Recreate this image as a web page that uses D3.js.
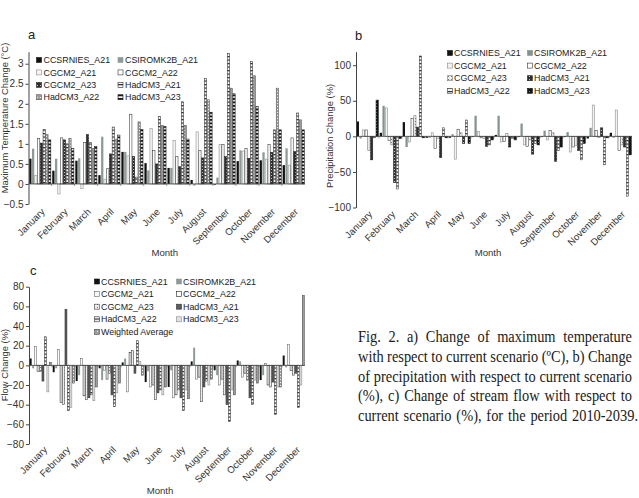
<!DOCTYPE html>
<html><head><meta charset="utf-8">
<script src="https://cdn.jsdelivr.net/npm/d3@7"></script>
<style>body{margin:0;background:#fff}svg{display:block}</style>
</head><body>
<svg id="chart" width="639" height="498"></svg>
<script>
const months = ["January","February","March","April","May","June","July","August","September","October","November","December"];
const seriesAB = ["CCSRNIES_A21","CSIROMK2B_A21","CGCM2_A21","CGCM2_A22","CGCM2_A23","HadCM3_A21","HadCM3_A22","HadCM3_A23"];
const seriesC = ["CCSRNIES_A21","CSIROMK2B_A21","CGCM2_A21","CGCM2_A22","CGCM2_A23","HadCM3_A21","HadCM3_A22","HadCM3_A23","Weighted Average"];

// Panel a: maximum temperature change (°C), one array per series, Jan..Dec
const tempCCSRNIES_A21 = [0.63,0.33,0.58,0.22,0.80,0.52,0.40,0.10,-0.02,0.57,0.59,0.47];
const tempCSIROMK2B_A21 = [0.88,0.63,0.64,1.18,0.80,0.34,0.40,-0.04,0.16,0.84,0.79,0.89];
const tempCGCM2_A21 = [0.21,-0.25,-0.12,0.12,0.70,1.38,1.09,1.30,0.98,0.82,0.62,0.47];
const tempCGCM2_A22 = [1.14,1.15,1.03,0.38,1.74,0.84,0.68,0.84,0.98,0.89,0.99,1.15];
const tempCGCM2_A23 = [1.02,1.10,1.23,0.75,0.69,0.50,0.43,0.65,0.68,0.64,0.79,0.81];
const tempHadCM3_A21 = [1.36,1.00,1.03,1.42,0.17,1.68,2.05,2.63,3.25,3.05,1.35,1.77];
const tempHadCM3_A22 = [1.23,1.14,0.88,1.12,1.55,1.46,1.46,2.10,2.39,2.70,2.39,1.60];
const tempHadCM3_A23 = [1.10,0.88,0.94,1.22,1.36,1.43,1.12,1.79,2.25,1.93,1.35,1.35];

// Panel b: precipitation change (%)
const precCCSRNIES_A21 = [21,5,20,-2,-2,-1,2,-1,-1,-1,-3,5];
const precCSIROMK2B_A21 = [-3,43,-15,-2,3,29,29,18,8,6,12,-2];
const precCGCM2_A21 = [9,40,-8,5,-32,7,-8,-12,-5,-22,44,37];
const precCGCM2_A22 = [9,-6,25,-17,10,-2,-7,-14,8,-15,8,-20];
const precCGCM2_A23 = [-20,-12,29,-3,5,-3,4,-5,5,-13,-2,-12];
const precHadCM3_A21 = [-33,-65,13,-30,-10,-14,-15,-25,-35,-20,12,-15];
const precHadCM3_A22 = [-2,-74,113,12,23,-12,-3,-10,-20,-33,-40,-84];
const precHadCM3_A23 = [51,-3,-2,-2,-10,-5,-5,-12,-15,-10,-2,-26];

// Panel c: flow change (%)
const flowCCSRNIES_A21 = [7,-7,-16,-3,3,-17,-22,4,-5,5,-15,10];
const flowCSIROMK2B_A21 = [-3,-3,-10,-15,7,-6,-5,18,-10,4,-10,-2];
const flowCGCM2_A21 = [19,16,7,-5,-27,-22,-33,-14,-20,-12,2,21];
const flowCGCM2_A22 = [-6,-38,-31,-14,13,-20,-30,-12,-14,-8,-20,-5];
const flowCGCM2_A23 = [-6,-40,-35,-8,15,-35,-25,-37,-30,-15,-22,-10];
const flowHadCM3_A21 = [-16,57,-33,-30,-8,-28,-33,-22,-40,-33,-17,-8];
const flowHadCM3_A22 = [29,-46,-30,-42,25,-25,-46,-16,-57,-40,-50,-43];
const flowHadCM3_A23 = [-27,-43,-36,-28,4,-30,-25,-20,-25,-15,-22,-20];
const flowWeighted = [3,-18,-22,-18,-10,-22,-34,-14,-30,-18,-22,71];

const tempTicks = [-0.5,0,0.5,1,1.5,2,2.5,3];
const precTicks = [-100,-50,0,50,100];
const flowTicks = [-80,-60,-40,-20,0,20,40,60,80];

const captionLines = [
 "Fig. 2. a) Change of maximum temperature",
 "with respect to current scenario (ºC), b) Change",
 "of precipitation with respect to current scenario",
 "(%), c) Change of stream flow with respect to",
 "current scenario (%), for the period 2010-2039."
];

const svg = d3.select("#chart");
const FONT = "'Liberation Sans', Arial, sans-serif";
const defs = svg.append("defs");
function pattern(id, w, h, bg, fg, rects){
  const p = defs.append("pattern").attr("id", id).attr("patternUnits","userSpaceOnUse").attr("width", w).attr("height", h);
  p.append("rect").attr("width", w).attr("height", h).attr("fill", bg);
  rects.forEach(r => p.append("rect").attr("x", r[0]).attr("y", r[1]).attr("width", r[2]).attr("height", r[3]).attr("fill", fg));
}
pattern("ladder", 3, 3.5, "#fbfbfb", "#2a2a2a", [[0,0,3,1.2]]);
pattern("ladder2", 3, 3.5, "#f4f4f4", "#1a1a1a", [[0,0,3,1.8]]);
pattern("darkdot", 3, 3, "#2e2e2e", "#c0c0c0", [[1,1,1,1]]);
pattern("blackdot", 3, 3, "#151515", "#888", [[1,1,1,1]]);
pattern("graydot", 3, 3, "#9c9c9c", "#eeeeee", [[1,1,1,1]]);
pattern("lightdot", 3, 3, "#ececec", "#7a7a7a", [[1,1,1,1]]);

const stylesA = [
 {fill:"#111", stroke:"none"}, {fill:"#8d9a97", stroke:"none"},
 {fill:"#f4f4f4", stroke:"#8a8a8a"}, {fill:"#fff", stroke:"#333"},
 {fill:"url(#darkdot)", stroke:"#222"}, {fill:"url(#ladder)", stroke:"#333"},
 {fill:"url(#graydot)", stroke:"#555"}, {fill:"url(#ladder2)", stroke:"#111"}
];
const stylesB = [
 {fill:"#111", stroke:"none"}, {fill:"#83948f", stroke:"none"},
 {fill:"#f2f2f2", stroke:"#888"}, {fill:"#fff", stroke:"#333"},
 {fill:"url(#lightdot)", stroke:"#777"}, {fill:"url(#darkdot)", stroke:"#222"},
 {fill:"url(#ladder)", stroke:"#444"}, {fill:"url(#blackdot)", stroke:"#111"}
];
const stylesC = [
 {fill:"#111", stroke:"none"}, {fill:"#8d9a97", stroke:"none"},
 {fill:"#fafafa", stroke:"#666"}, {fill:"#fff", stroke:"#222"},
 {fill:"url(#lightdot)", stroke:"#444"}, {fill:"#5c5c5c", stroke:"#333"},
 {fill:"url(#ladder)", stroke:"#333"}, {fill:"#e2e2e2", stroke:"#888"},
 {fill:"url(#graydot)", stroke:"#444"}
];

function panel(cfg){
  const g = svg.append("g");
  const x = d3.scaleBand().domain(months).range([cfg.x0, cfg.x1]).paddingInner(0.04).paddingOuter(0.02);
  const xi = d3.scaleBand().domain(d3.range(cfg.series.length)).range([0, x.bandwidth()]);
  const y = d3.scaleLinear().domain(cfg.domain).range([cfg.yb, cfg.yt]);
  cfg.values.forEach((vals, si) => {
    const st = cfg.styles[si];
    g.append("g").selectAll("rect").data(vals).join("rect")
      .attr("x", (d,i) => x(months[i]) + xi(si) + 0.25)
      .attr("width", xi.bandwidth() - 0.5)
      .attr("y", d => Math.min(y(d), y(0)))
      .attr("height", d => Math.max(0.6, Math.abs(y(d) - y(0))))
      .attr("fill", st.fill).attr("stroke", st.stroke).attr("stroke-width", 0.55);
  });
  g.append("line").attr("x1", cfg.x0).attr("x2", cfg.x1).attr("y1", y(0)).attr("y2", y(0)).attr("stroke", "#444").attr("stroke-width", 0.8);
  g.selectAll(".bt").data(months.slice(1)).join("line")
    .attr("x1", d => x(d) - x.step()*0.02).attr("x2", d => x(d) - x.step()*0.02)
    .attr("y1", y(0)).attr("y2", y(0) + 2).attr("stroke", "#555").attr("stroke-width", 0.6);
  const ax = g.append("g").attr("transform", `translate(${cfg.x0},0)`)
    .call(d3.axisLeft(y).tickValues(cfg.ticks).tickSize(3).tickSizeOuter(0).tickPadding(2).tickFormat(cfg.fmt));
  ax.select(".domain").attr("stroke", "#444");
  ax.selectAll(".tick line").attr("stroke", "#444");
  ax.selectAll("text").attr("font-family", FONT).attr("font-size", 10).attr("fill", "#333");
  g.selectAll(".ml").data(months).join("text")
    .attr("transform", d => `translate(${x(d) + x.bandwidth()/2 + cfg.mdx},${cfg.yb + cfg.mdy}) rotate(-45)`)
    .attr("text-anchor", "end").attr("dy", "0.35em")
    .attr("font-family", FONT).attr("font-size", 9.6).attr("fill", "#333").text(d => d);
  g.append("text").attr("x", (cfg.x0 + cfg.x1)/2 + cfg.monthDx).attr("y", cfg.monthY).attr("text-anchor", "middle")
    .attr("font-family", FONT).attr("font-size", 9.6).attr("fill", "#333").text("Month");
  g.append("text").attr("transform", `translate(${cfg.ytX},${cfg.ytY}) rotate(-90)`).attr("text-anchor", "middle")
    .attr("font-family", FONT).attr("font-size", 9.4).attr("fill", "#333").text(cfg.ytitle);
  g.append("text").attr("x", cfg.letter[0]).attr("y", cfg.letter[1]).attr("font-family", FONT).attr("font-size", 13).attr("fill", "#222").text(cfg.letter[2]);
  cfg.series.forEach((s, i) => {
    const col = i % 2, row = Math.floor(i / 2);
    const lx = cfg.leg.cols[col], ly = cfg.leg.y0 + row * cfg.leg.dy;
    const st = cfg.styles[i];
    g.append("rect").attr("x", lx).attr("y", ly - 2.5).attr("width", 5).attr("height", 5)
      .attr("fill", st.fill).attr("stroke", st.stroke === "none" ? st.fill : st.stroke).attr("stroke-width", 0.6);
    g.append("text").attr("x", lx + cfg.leg.tx).attr("y", ly).attr("dy", "0.35em")
      .attr("font-family", FONT).attr("font-size", 8.9).attr("fill", "#222").text(s);
  });
}

panel({
  x0: 28.5, x1: 305, yt: 51.7, yb: 204, domain: [-0.5, 3.3], ticks: tempTicks, fmt: d3.format("~g"),
  series: seriesAB, styles: stylesA,
  values: [tempCCSRNIES_A21,tempCSIROMK2B_A21,tempCGCM2_A21,tempCGCM2_A22,tempCGCM2_A23,tempHadCM3_A21,tempHadCM3_A22,tempHadCM3_A23],
  mdx: 3, mdy: 6, monthY: 256, monthDx: -2, ytX: 8, ytY: 118, ytitle: "Maximum Temperature Change (°C)",
  letter: [28, 39, "a"], leg: {cols: [36.5, 118], y0: 60, dy: 12.4, tx: 7}
});
panel({
  x0: 356, x1: 632, yt: 51.7, yb: 207.5, domain: [-100, 119], ticks: precTicks, fmt: d3.format("d"),
  series: seriesAB, styles: stylesB,
  values: [precCCSRNIES_A21,precCSIROMK2B_A21,precCGCM2_A21,precCGCM2_A22,precCGCM2_A23,precHadCM3_A21,precHadCM3_A22,precHadCM3_A23],
  mdx: 3, mdy: 5, monthY: 256, monthDx: -6, ytX: 333, ytY: 136, ytitle: "Precipitation Change (%)",
  letter: [355, 40, "b"], leg: {cols: [447.5, 527.5], y0: 53, dy: 12.6, tx: 6.5}
});
panel({
  x0: 29, x1: 305, yt: 286.7, yb: 444, domain: [-80, 80], ticks: flowTicks, fmt: d3.format("d"),
  series: seriesC, styles: stylesC,
  values: [flowCCSRNIES_A21,flowCSIROMK2B_A21,flowCGCM2_A21,flowCGCM2_A22,flowCGCM2_A23,flowHadCM3_A21,flowHadCM3_A22,flowHadCM3_A23,flowWeighted],
  mdx: 5, mdy: 4, monthY: 494, monthDx: -7, ytX: 8, ytY: 365, ytitle: "Flow Change (%)",
  letter: [30, 275, "c"], leg: {cols: [94.5, 176.5], y0: 281.5, dy: 12.6, tx: 6.5}
});

// caption, justified word by word, slightly condensed
const capX = 358, capW = [274, 274, 274, 274, 280], sx = 0.9;
const cap = svg.append("g").attr("transform", `translate(${capX},0) scale(${sx},1)`);
captionLines.forEach((line, li) => {
  const words = line.split(" ");
  const yb = 342.5 + li * 19.6;
  const nodes = words.map(w => cap.append("text").attr("y", yb)
    .attr("font-family", "'Liberation Serif', 'Times New Roman', serif").attr("font-size", 16).attr("fill", "#1a1a1a").text(w));
  const widths = nodes.map(n => n.node().getComputedTextLength());
  const total = d3.sum(widths);
  const gap = (capW[li] / sx - total) / (words.length - 1);
  let cx = 0;
  nodes.forEach((n, i) => { n.attr("x", cx); cx += widths[i] + gap; });
});
</script>
</body></html>
